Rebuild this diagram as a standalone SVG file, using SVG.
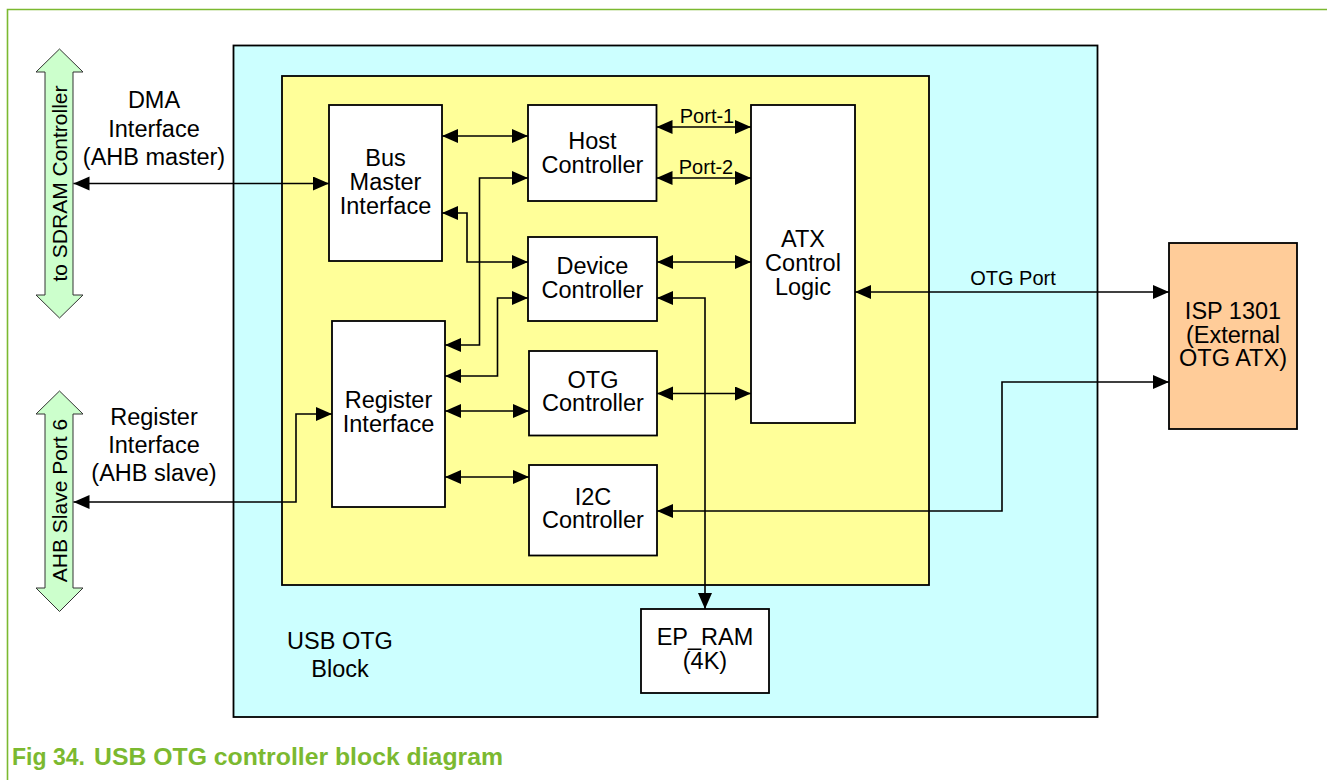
<svg xmlns="http://www.w3.org/2000/svg" width="1327" height="780" viewBox="0 0 1327 780">
<style>
.t{font-family:"Liberation Sans",Arial,sans-serif;font-size:23.5px;fill:#000;text-anchor:middle}
.s{font-family:"Liberation Sans",Arial,sans-serif;font-size:20px;fill:#000;text-anchor:middle}
.v{font-family:"Liberation Sans",Arial,sans-serif;font-size:21px;fill:#000;text-anchor:middle}
.box{fill:#fff;stroke:#000;stroke-width:1.8}
.c{fill:none;stroke:#000;stroke-width:1.6;marker-start:url(#ah);marker-end:url(#ah)}
.ga{fill:#CCFFCC;stroke:#333;stroke-width:1}
</style>
<defs>
<marker id="ah" markerUnits="userSpaceOnUse" markerWidth="17" markerHeight="15" refX="16" refY="7" orient="auto-start-reverse" viewBox="0 0 17 15">
<path d="M0,0 L16,7 L0,14 z" fill="#000"/>
</marker>
</defs>
<rect width="1327" height="780" fill="#fff"/>
<g id="frame">
<path d="M7.5,780 V9.5 H1327" fill="none" stroke="#7BB930" stroke-width="1.6"/>
</g>
<g id="usb-otg-block">
<rect x="233.5" y="45.5" width="864" height="671.5" fill="#CCFFFF" stroke="#000" stroke-width="1.8"/>
<text class="t" x="340" y="649">USB OTG</text>
<text class="t" x="340" y="677">Block</text>
</g>
<g id="core-area">
<rect x="282" y="76" width="647" height="509" fill="#FFFF99" stroke="#000" stroke-width="1.8"/>
</g>
<g id="sdram-arrow">
<polygon class="ga" points="59.5,49 83,72 73,72 73,295 83,295 59.5,318 36,295 45,295 45,72 36,72"/>
<text class="v" transform="translate(67,183.5) rotate(-90)">to SDRAM Controller</text>
</g>
<g id="ahb-slave-arrow">
<polygon class="ga" points="59.5,391 83,414 73,414 73,588 83,588 59.5,611.5 36,588 45,588 45,414 36,414"/>
<text class="v" transform="translate(67,500.5) rotate(-90)">AHB Slave Port 6</text>
</g>
<g id="dma-label">
<text class="t" x="154" y="108">DMA</text>
<text class="t" x="154" y="137">Interface</text>
<text class="t" x="154" y="165">(AHB master)</text>
</g>
<g id="register-label">
<text class="t" x="154" y="425">Register</text>
<text class="t" x="154" y="453">Interface</text>
<text class="t" x="154" y="481">(AHB slave)</text>
</g>
<g id="bus-master-interface">
<rect class="box" x="329" y="105" width="113" height="156"/>
<text class="t" x="385.5" y="166">Bus</text>
<text class="t" x="385.5" y="190">Master</text>
<text class="t" x="385.5" y="214">Interface</text>
</g>
<g id="register-interface">
<rect class="box" x="332" y="321" width="113" height="186"/>
<text class="t" x="388.5" y="407.5">Register</text>
<text class="t" x="388.5" y="431.5">Interface</text>
</g>
<g id="host-controller">
<rect class="box" x="528" y="105" width="128.5" height="96"/>
<text class="t" x="592.5" y="148.5">Host</text>
<text class="t" x="592.5" y="172.5">Controller</text>
</g>
<g id="device-controller">
<rect class="box" x="528" y="237" width="129" height="84"/>
<text class="t" x="592.5" y="273.5">Device</text>
<text class="t" x="592.5" y="297.5">Controller</text>
</g>
<g id="otg-controller">
<rect class="box" x="529" y="351" width="128" height="84.5"/>
<text class="t" x="593" y="387.5">OTG</text>
<text class="t" x="593" y="411">Controller</text>
</g>
<g id="i2c-controller">
<rect class="box" x="529" y="465" width="128" height="90.5"/>
<text class="t" x="593" y="504.5">I2C</text>
<text class="t" x="593" y="528">Controller</text>
</g>
<g id="atx-control-logic">
<rect class="box" x="751" y="105" width="104" height="318"/>
<text class="t" x="803" y="247">ATX</text>
<text class="t" x="803" y="271">Control</text>
<text class="t" x="803" y="294.5">Logic</text>
</g>
<g id="ep-ram">
<rect class="box" x="641" y="609" width="128" height="84"/>
<text class="t" x="705" y="645">EP_RAM</text>
<text class="t" x="705" y="668.5">(4K)</text>
</g>
<g id="isp1301">
<rect x="1169" y="243" width="128" height="186" fill="#FFCC99" stroke="#000" stroke-width="1.8"/>
<text class="t" x="1233" y="318.5">ISP 1301</text>
<text class="t" x="1233" y="342.5">(External</text>
<text class="t" x="1233" y="366">OTG ATX)</text>
</g>
<g id="connectors">
<path class="c" d="M73.5,183.5 H329"/>
<path class="c" d="M73.5,502 H296 V414 H332"/>
<path class="c" d="M442,136 H528"/>
<path class="c" d="M445,345 H479.5 V178 H528"/>
<path class="c" d="M442,213 H467 V262 H528"/>
<path class="c" d="M445,376 H497.5 V298 H528"/>
<path class="c" d="M656.5,127 H751"/>
<path class="c" d="M656.5,178 H751"/>
<path class="c" d="M657,262 H751"/>
<path class="c" d="M657,298 H705 V609"/>
<path class="c" d="M855,292 H1169"/>
<path class="c" d="M657,393.5 H751"/>
<path class="c" d="M445,411 H529"/>
<path class="c" d="M445,477 H529"/>
<path class="c" d="M657,511 H1002 V382 H1169"/>
<text class="s" x="707" y="123">Port-1</text>
<text class="s" x="706" y="173.5">Port-2</text>
<text class="s" x="1013" y="285">OTG Port</text>
</g>
<g id="caption">
<text x="12" y="765" font-family="'Liberation Sans',Arial,sans-serif" font-size="23" font-weight="bold" fill="#7BB930">Fig 34.</text>
<text x="94" y="765" font-family="'Liberation Sans',Arial,sans-serif" font-size="23" font-weight="bold" fill="#7BB930" textLength="409" lengthAdjust="spacingAndGlyphs">USB OTG controller block diagram</text>
</g>
</svg>
